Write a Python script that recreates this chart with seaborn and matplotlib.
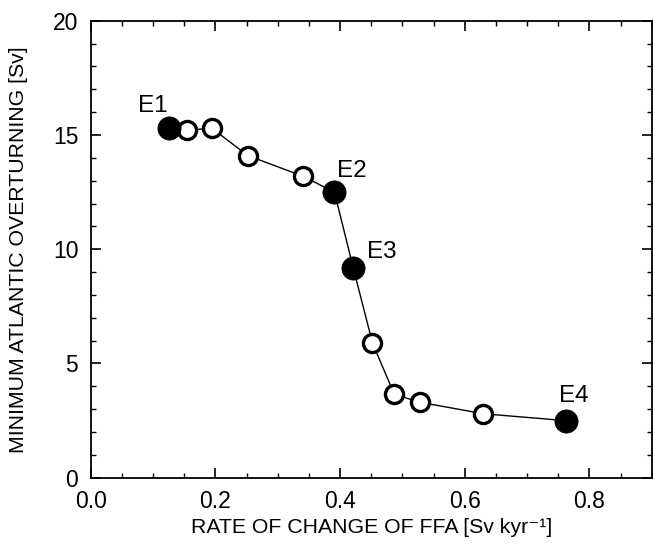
import matplotlib
matplotlib.use("Agg")
import matplotlib.pyplot as plt
import seaborn as sns
import pandas as pd
from matplotlib.ticker import MultipleLocator

# data
rate = [0.125, 0.154, 0.194, 0.252, 0.340, 0.391, 0.421, 0.452, 0.487, 0.529, 0.630, 0.762]
overturning = [15.3, 15.2, 15.3, 14.1, 13.2, 12.5, 9.2, 5.9, 3.65, 3.3, 2.8, 2.5]
filled = [True, False, False, False, False, True, True, False, False, False, False, True]
labels = ["E1", "", "", "", "", "E2", "E3", "", "", "", "", "E4"]
xticks = [0.0, 0.2, 0.4, 0.6, 0.8]
yticks = [0, 5, 10, 15, 20]

df = pd.DataFrame({"rate": rate, "ov": overturning, "filled": filled, "label": labels})

sns.set_theme(style="ticks")
plt.rcParams["font.family"] = ["Liberation Sans", "DejaVu Sans"]
for k in ["text.color", "axes.labelcolor", "xtick.color", "ytick.color", "axes.edgecolor"]:
    plt.rcParams[k] = "black"

fig = plt.figure(figsize=(6.53, 5.46), dpi=100)
ax = fig.add_axes([0.139, 0.125, 0.859, 0.837])

sns.lineplot(data=df, x="rate", y="ov", ax=ax, color="black", lw=1.0, sort=False, zorder=1)
sns.scatterplot(data=df[~df.filled], x="rate", y="ov", ax=ax, marker="o", s=170,
                facecolor="white", edgecolor="black", linewidth=2.4, zorder=3)
sns.scatterplot(data=df[df.filled], x="rate", y="ov", ax=ax, marker="o", s=280,
                color="black", edgecolor="black", linewidth=0.5, zorder=4)

# label placement (left edge x, baseline y) relative to the point
offsets = {"E1": (-0.050, 0.72), "E2": (0.004, 0.64), "E3": (0.022, 0.40), "E4": (-0.010, 0.80)}
for x, y, lab in zip(rate, overturning, labels):
    if lab:
        dx, dy = offsets[lab]
        ax.text(x + dx, y + dy, lab, fontsize=17.5, ha="left", va="baseline", color="black")

ax.set_xlim(0, 0.9)
ax.set_ylim(0, 20)
ax.set_xticks(xticks)
ax.set_xticklabels([f"{v:.1f}" for v in xticks])
ax.set_yticks(yticks)
ax.set_yticklabels([str(v) for v in yticks])
ax.xaxis.set_minor_locator(MultipleLocator(0.05))
ax.yaxis.set_minor_locator(MultipleLocator(1))
ax.tick_params(which="both", direction="in", top=True, right=True, color="black")
ax.tick_params(which="major", length=7.5, width=1.2, labelsize=16.5)
ax.tick_params(axis="x", which="major", pad=9)
ax.tick_params(axis="y", which="major", pad=9)
ax.tick_params(which="minor", length=3.5, width=1.0)
for sp in ax.spines.values():
    sp.set_linewidth(1.3)
    sp.set_color("black")

ax.set_xlabel("RATE OF CHANGE OF FFA [Sv kyr\u207b\u00b9]", fontsize=15.3)
ax.set_ylabel("MINIMUM ATLANTIC OVERTURNING [Sv]", fontsize=15.3)
ax.xaxis.set_label_coords(0.5, -0.089)
ax.yaxis.set_label_coords(-0.112, 0.5)
ax.xaxis.label.set_va("top")

fig.savefig("out.png", dpi=100)
